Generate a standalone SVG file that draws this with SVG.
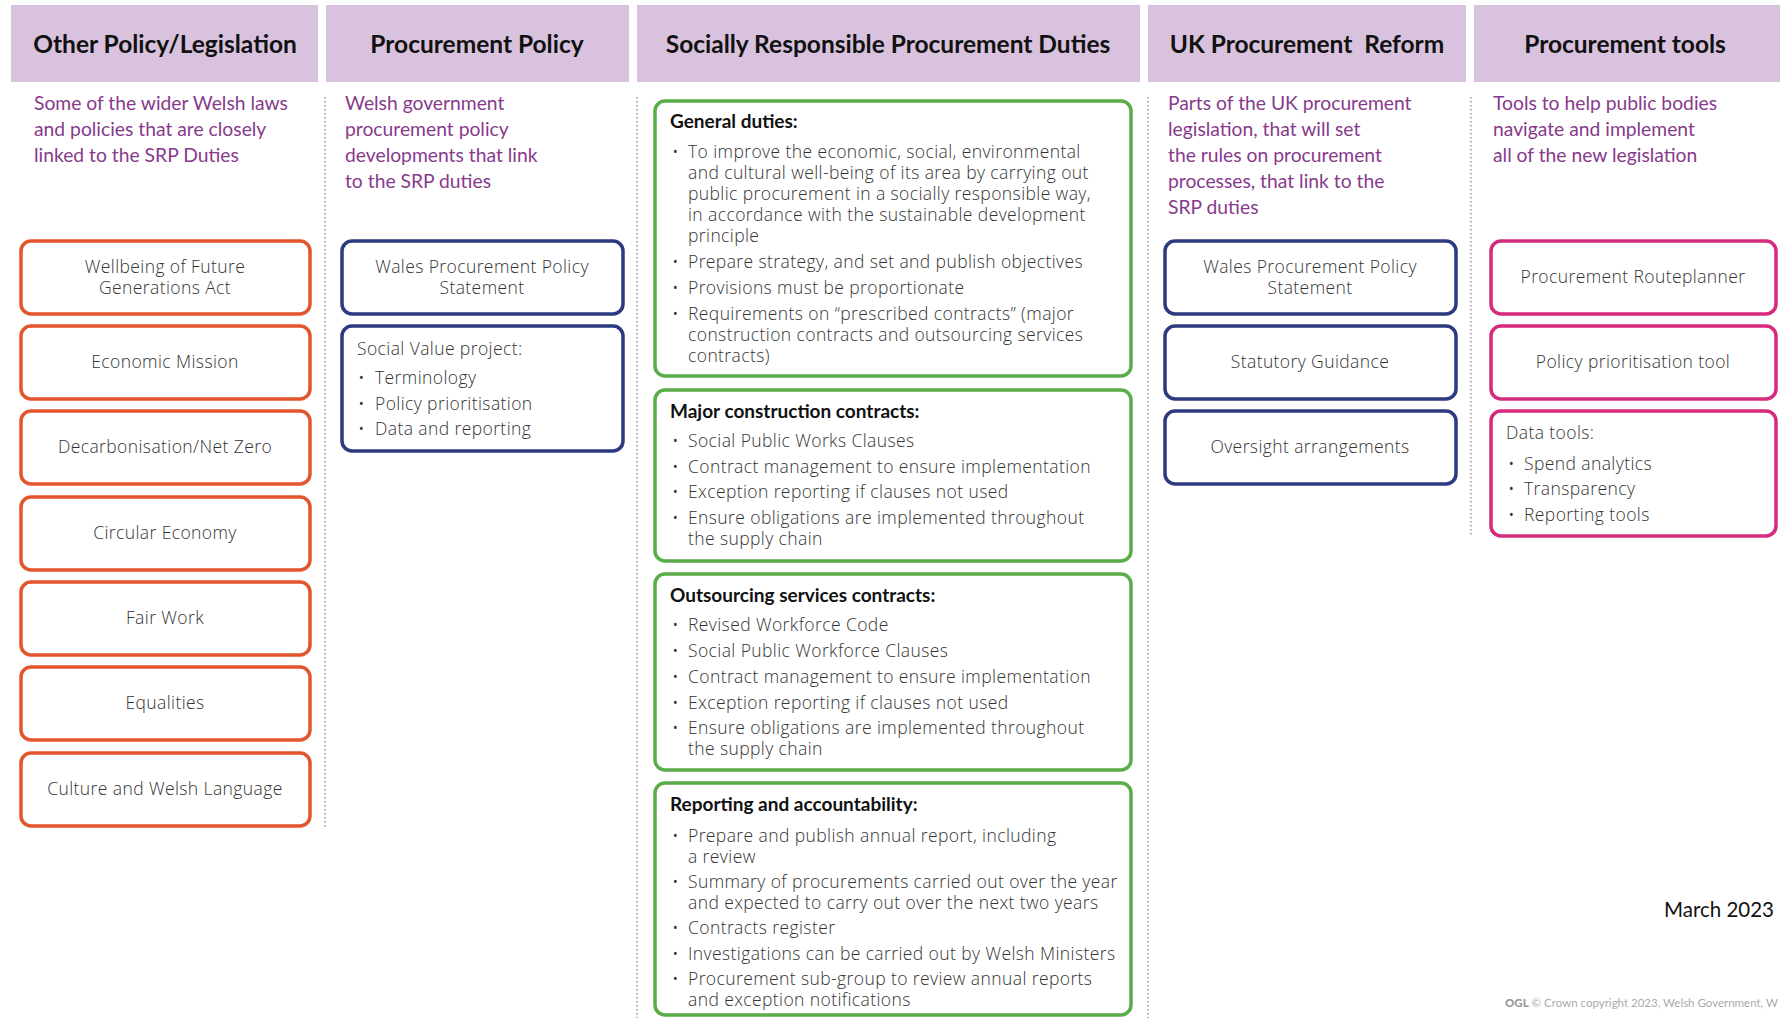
<svg xmlns="http://www.w3.org/2000/svg" width="1783" height="1018" viewBox="0 0 1783 1018">
<style>
.hdr{fill:#d8c2dd}
.ht{font-family:Lato,"Liberation Sans",sans-serif;font-weight:700;font-size:24.5px;fill:#111;text-anchor:middle}
.desc{font-family:Lato,"Liberation Sans",sans-serif;font-size:19.3px;fill:#873a8c}
.bx{fill:#fff;stroke-width:3.5}
.or{stroke:#e2552d}
.bl{stroke:#2c3a80}
.gr{stroke:#5aad48}
.pk{stroke:#d52a7d}
.lbl{font-family:"Open Sans","Liberation Sans",sans-serif;font-weight:300;font-size:17.5px;letter-spacing:0.4px;fill:#333;text-anchor:middle}
.t{font-family:"Open Sans","Liberation Sans",sans-serif;font-weight:300;font-size:17.5px;letter-spacing:0.4px;fill:#333}
.th{font-family:Lato,"Liberation Sans",sans-serif;font-weight:700;font-size:19px;fill:#111}
.dot{stroke:#9c8fa8;stroke-width:1.5;stroke-dasharray:1.5 2.5;fill:none}
</style>
<rect width="1783" height="1018" fill="#fff"/>

<g id="headers">
<rect class="hdr" x="11" y="5" width="307" height="77"/>
<text class="ht" x="165" y="53">Other Policy/Legislation</text>
<rect class="hdr" x="326" y="5" width="303" height="77"/>
<text class="ht" x="477" y="53">Procurement Policy</text>
<rect class="hdr" x="637" y="5" width="503" height="77"/>
<text class="ht" x="888" y="53">Socially Responsible Procurement Duties</text>
<rect class="hdr" x="1148" y="5" width="318" height="77"/>
<text class="ht" x="1307" y="53" xml:space="preserve">UK Procurement  Reform</text>
<rect class="hdr" x="1474" y="5" width="306" height="77"/>
<text class="ht" x="1625" y="53">Procurement tools</text>
</g>

<g id="descriptions">
<text class="desc" x="34" y="110">Some of the wider Welsh laws</text>
<text class="desc" x="34" y="136">and policies that are closely</text>
<text class="desc" x="34" y="162">linked to the SRP Duties</text>
<text class="desc" x="345" y="110">Welsh government</text>
<text class="desc" x="345" y="136">procurement policy</text>
<text class="desc" x="345" y="162">developments that link</text>
<text class="desc" x="345" y="188">to the SRP duties</text>
<text class="desc" x="1168" y="110">Parts of the UK procurement</text>
<text class="desc" x="1168" y="136">legislation, that will set</text>
<text class="desc" x="1168" y="162">the rules on procurement</text>
<text class="desc" x="1168" y="188">processes, that link to the</text>
<text class="desc" x="1168" y="214">SRP duties</text>
<text class="desc" x="1493" y="110">Tools to help public bodies</text>
<text class="desc" x="1493" y="136">navigate and implement</text>
<text class="desc" x="1493" y="162">all of the new legislation</text>
</g>

<g id="connectors">
<line class="dot" x1="325" y1="97" x2="325" y2="827"/>
<line class="dot" x1="637" y1="97" x2="637" y2="1018"/>
<line class="dot" x1="1148" y1="97" x2="1148" y2="1018"/>
<line class="dot" x1="1471" y1="97" x2="1471" y2="535"/>
</g>

<g id="wellbeing"><rect class="bx or" x="21" y="241" width="289" height="73" rx="10"/>
<text class="lbl" x="165" y="273">Wellbeing of Future</text><text class="lbl" x="165" y="294">Generations Act</text></g>
<g id="economic"><rect class="bx or" x="21" y="326" width="289" height="73" rx="10"/>
<text class="lbl" x="165" y="368">Economic Mission</text></g>
<g id="decarb"><rect class="bx or" x="21" y="411" width="289" height="73" rx="10"/>
<text class="lbl" x="165" y="453">Decarbonisation/Net Zero</text></g>
<g id="circular"><rect class="bx or" x="21" y="497" width="289" height="73" rx="10"/>
<text class="lbl" x="165" y="539">Circular Economy</text></g>
<g id="fairwork"><rect class="bx or" x="21" y="582" width="289" height="73" rx="10"/>
<text class="lbl" x="165" y="624">Fair Work</text></g>
<g id="equalities"><rect class="bx or" x="21" y="667" width="289" height="73" rx="10"/>
<text class="lbl" x="165" y="709">Equalities</text></g>
<g id="culture"><rect class="bx or" x="21" y="753" width="289" height="73" rx="10"/>
<text class="lbl" x="165" y="795">Culture and Welsh Language</text></g>

<g id="wpps1"><rect class="bx bl" x="342" y="241" width="281" height="73" rx="10"/>
<text class="lbl" x="482" y="273">Wales Procurement Policy</text><text class="lbl" x="482" y="294">Statement</text></g>
<g id="socialvalue"><rect class="bx bl" x="342" y="326" width="281" height="125" rx="10"/>
<text class="t" x="357" y="355">Social Value project:</text>
<text class="t" x="358" y="384">•</text><text class="t" x="375" y="384">Terminology</text>
<text class="t" x="358" y="410">•</text><text class="t" x="375" y="410">Policy prioritisation</text>
<text class="t" x="358" y="435">•</text><text class="t" x="375" y="435">Data and reporting</text></g>

<g id="general"><rect class="bx gr" x="655" y="101" width="476" height="275" rx="10"/>
<text class="th" x="670" y="128">General duties:</text>
<text class="t" x="672" y="158">•</text><text class="t" x="688" y="158">To improve the economic, social, environmental</text>
<text class="t" x="688" y="179">and cultural well-being of its area by carrying out</text>
<text class="t" x="688" y="200">public procurement in a socially responsible way,</text>
<text class="t" x="688" y="221">in accordance with the sustainable development</text>
<text class="t" x="688" y="242">principle</text>
<text class="t" x="672" y="268">•</text><text class="t" x="688" y="268">Prepare strategy, and set and publish objectives</text>
<text class="t" x="672" y="294">•</text><text class="t" x="688" y="294">Provisions must be proportionate</text>
<text class="t" x="672" y="320">•</text><text class="t" x="688" y="320">Requirements on “prescribed contracts” (major</text>
<text class="t" x="688" y="341">construction contracts and outsourcing services</text>
<text class="t" x="688" y="362">contracts)</text></g>

<g id="major"><rect class="bx gr" x="655" y="390" width="476" height="171" rx="10"/>
<text class="th" x="670" y="418">Major construction contracts:</text>
<text class="t" x="672" y="447">•</text><text class="t" x="688" y="447">Social Public Works Clauses</text>
<text class="t" x="672" y="473">•</text><text class="t" x="688" y="473">Contract management to ensure implementation</text>
<text class="t" x="672" y="498">•</text><text class="t" x="688" y="498">Exception reporting if clauses not used</text>
<text class="t" x="672" y="524">•</text><text class="t" x="688" y="524">Ensure obligations are implemented throughout</text>
<text class="t" x="688" y="545">the supply chain</text></g>

<g id="outsourcing"><rect class="bx gr" x="655" y="574" width="476" height="196" rx="10"/>
<text class="th" x="670" y="602">Outsourcing services contracts:</text>
<text class="t" x="672" y="631">•</text><text class="t" x="688" y="631">Revised Workforce Code</text>
<text class="t" x="672" y="657">•</text><text class="t" x="688" y="657">Social Public Workforce Clauses</text>
<text class="t" x="672" y="683">•</text><text class="t" x="688" y="683">Contract management to ensure implementation</text>
<text class="t" x="672" y="709">•</text><text class="t" x="688" y="709">Exception reporting if clauses not used</text>
<text class="t" x="672" y="734">•</text><text class="t" x="688" y="734">Ensure obligations are implemented throughout</text>
<text class="t" x="688" y="755">the supply chain</text></g>

<g id="reporting"><rect class="bx gr" x="655" y="783" width="476" height="232" rx="10"/>
<text class="th" x="670" y="811">Reporting and accountability:</text>
<text class="t" x="672" y="842">•</text><text class="t" x="688" y="842">Prepare and publish annual report, including</text>
<text class="t" x="688" y="863">a review</text>
<text class="t" x="672" y="888">•</text><text class="t" x="688" y="888">Summary of procurements carried out over the year</text>
<text class="t" x="688" y="909">and expected to carry out over the next two years</text>
<text class="t" x="672" y="934">•</text><text class="t" x="688" y="934">Contracts register</text>
<text class="t" x="672" y="960">•</text><text class="t" x="688" y="960">Investigations can be carried out by Welsh Ministers</text>
<text class="t" x="672" y="985">•</text><text class="t" x="688" y="985">Procurement sub-group to review annual reports</text>
<text class="t" x="688" y="1006">and exception notifications</text></g>

<g id="wpps2"><rect class="bx bl" x="1165" y="241" width="291" height="73" rx="10"/>
<text class="lbl" x="1310" y="273">Wales Procurement Policy</text><text class="lbl" x="1310" y="294">Statement</text></g>
<g id="statutory"><rect class="bx bl" x="1165" y="326" width="291" height="73" rx="10"/>
<text class="lbl" x="1310" y="368">Statutory Guidance</text></g>
<g id="oversight"><rect class="bx bl" x="1165" y="411" width="291" height="73" rx="10"/>
<text class="lbl" x="1310" y="453">Oversight arrangements</text></g>

<g id="routeplanner"><rect class="bx pk" x="1491" y="241" width="285" height="73" rx="10"/>
<text class="lbl" x="1633" y="283">Procurement Routeplanner</text></g>
<g id="prioritisation"><rect class="bx pk" x="1491" y="326" width="285" height="73" rx="10"/>
<text class="lbl" x="1633" y="368">Policy prioritisation tool</text></g>
<g id="datatools"><rect class="bx pk" x="1491" y="411" width="285" height="125" rx="10"/>
<text class="t" x="1506" y="439">Data tools:</text>
<text class="t" x="1508" y="470">•</text><text class="t" x="1524" y="470">Spend analytics</text>
<text class="t" x="1508" y="495">•</text><text class="t" x="1524" y="495">Transparency</text>
<text class="t" x="1508" y="521">•</text><text class="t" x="1524" y="521">Reporting tools</text></g>

<text x="1774" y="917" text-anchor="end" font-family="Lato,'Liberation Sans',sans-serif" font-size="20.5" fill="#111">March 2023</text>
<text x="1505" y="1007" font-family="Lato,'Liberation Sans',sans-serif" font-size="11.5" fill="#aaa"><tspan font-weight="900" fill="#999">OGL</tspan> © Crown copyright 2023, Welsh Government, W</text>
</svg>
